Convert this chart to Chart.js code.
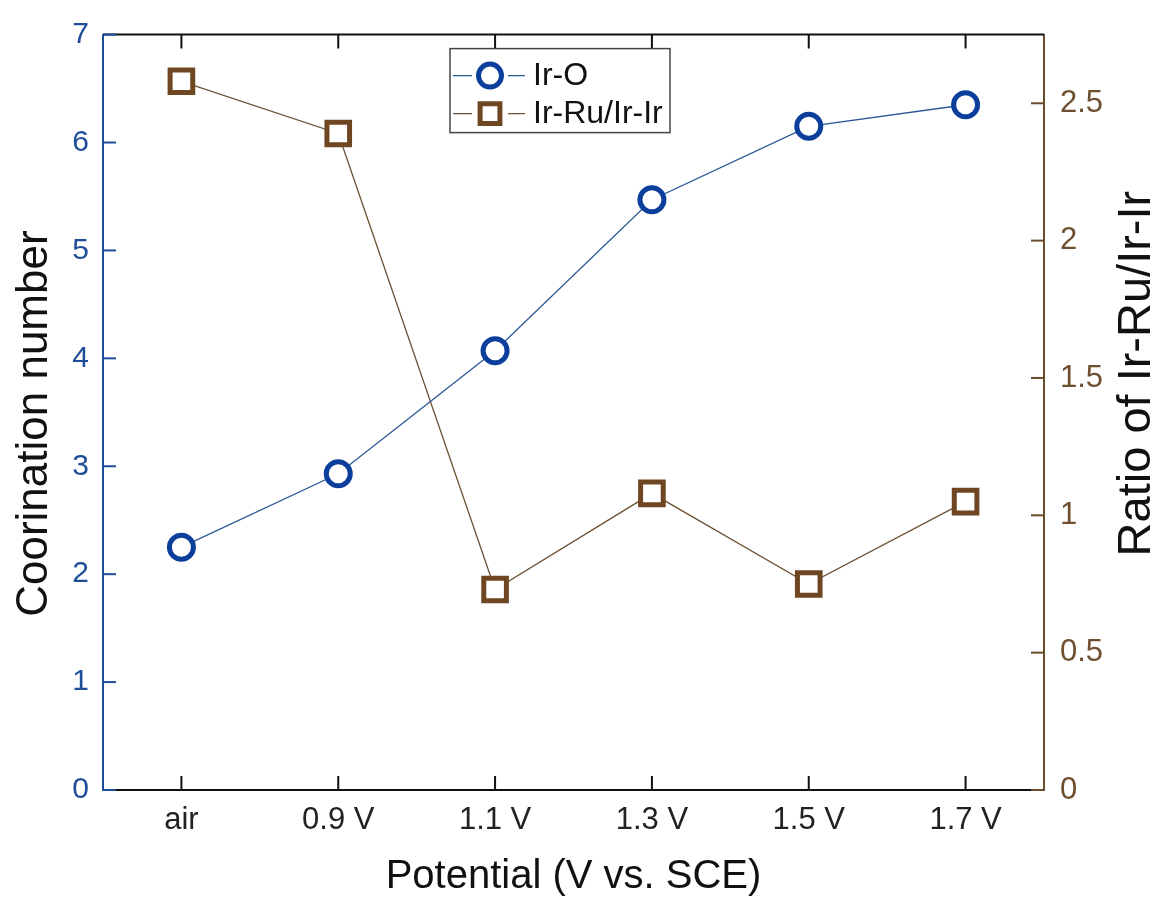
<!DOCTYPE html>
<html>
<head>
<meta charset="utf-8">
<script src="https://cdn.jsdelivr.net/npm/chart.js@4.4.1/dist/chart.umd.min.js"></script>
<style>
  html, body { margin: 0; padding: 0; background: #fff; }
  #wrap { width: 1158px; height: 903px; }
</style>
</head>
<body>
<div id="wrap"><canvas id="xafsChart"></canvas></div>
<script>
// data
const potentials = ['air', '0.9 V', '1.1 V', '1.3 V', '1.5 V', '1.7 V'];
const irOCoordination = [2.25, 2.93, 4.07, 5.47, 6.15, 6.35];
const irRuRatio = [2.58, 2.39, 0.73, 1.08, 0.75, 1.05];
const leftTicks = [0, 1, 2, 3, 4, 5, 6, 7];
const rightTicks = [0, 0.5, 1, 1.5, 2, 2.5];

const FONT = '"Liberation Sans", Arial, sans-serif';
const BLUE = '#0b3f9b';
const BLUE_AXIS = '#1f4e99';
const BROWN = '#6f4622';
const BROWN_AXIS = '#6b4d2e';

Chart.defaults.font.family = FONT;

// inward tick marks, top frame line, vertical axis titles
const frameTicks = {
    id: 'frameTicks',
    afterDraw(chart) {
        const { ctx, chartArea: a, scales } = chart;
        ctx.save();
        ctx.lineWidth = 2;
        ctx.strokeStyle = '#111';
        ctx.beginPath();
        ctx.moveTo(a.left, a.top);
        ctx.lineTo(a.right, a.top);
        ctx.stroke();
        scales.x.ticks.forEach((t, i) => {
            const px = scales.x.getPixelForTick(i);
            ctx.beginPath();
            ctx.moveTo(px, a.bottom);
            ctx.lineTo(px, a.bottom - 14);
            ctx.moveTo(px, a.top);
            ctx.lineTo(px, a.top + 14);
            ctx.stroke();
        });
        ctx.strokeStyle = BLUE_AXIS;
        scales.y.ticks.forEach((t, i) => {
            const py = scales.y.getPixelForTick(i);
            ctx.beginPath();
            ctx.moveTo(a.left, py);
            ctx.lineTo(a.left + 13, py);
            ctx.stroke();
        });
        ctx.strokeStyle = BROWN_AXIS;
        scales.y1.ticks.forEach((t, i) => {
            const py = scales.y1.getPixelForTick(i);
            ctx.beginPath();
            ctx.moveTo(a.right, py);
            ctx.lineTo(a.right - 13, py);
            ctx.stroke();
        });

        // both titles read bottom-to-top
        ctx.fillStyle = '#111';
        ctx.textAlign = 'center';
        ctx.textBaseline = 'middle';
        ctx.save();
        ctx.font = '44px ' + FONT;
        ctx.translate(a.left - 68, a.top + 389);
        ctx.rotate(-Math.PI / 2);
        ctx.fillText('Coorination number', 0, 0);
        ctx.restore();
        ctx.save();
        ctx.font = '47px ' + FONT;
        ctx.translate(a.right + 93, a.top + 339);
        ctx.rotate(-Math.PI / 2);
        ctx.fillText('Ratio of Ir-Ru/Ir-Ir', 0, 0);
        ctx.restore();
        ctx.restore();
    }
};

// boxed legend with line-marker-line symbols
const boxLegend = {
    id: 'boxLegend',
    afterDraw(chart) {
        const { ctx, chartArea: a } = chart;
        const x0 = a.left + 347, y0 = a.top + 14, w = 220, h = 84;
        ctx.save();
        ctx.fillStyle = '#fff';
        ctx.fillRect(x0, y0, w, h);
        ctx.strokeStyle = '#444';
        ctx.lineWidth = 1.5;
        ctx.strokeRect(x0, y0, w, h);
        chart.data.datasets.forEach((ds, i) => {
            const cy = y0 + 27 + i * 38;
            ctx.strokeStyle = ds.borderColor;
            ctx.lineWidth = 1.3;
            ctx.beginPath();
            ctx.moveTo(x0 + 3, cy);
            ctx.lineTo(x0 + 22, cy);
            ctx.moveTo(x0 + 58, cy);
            ctx.lineTo(x0 + 75, cy);
            ctx.stroke();
            ctx.fillStyle = '#fff';
            ctx.strokeStyle = ds.pointBorderColor;
            ctx.lineWidth = ds.pointBorderWidth;
            Chart.helpers.drawPoint(ctx, {
                pointStyle: ds.pointStyle,
                radius: ds.legendRadius,
                borderWidth: ds.pointBorderWidth,
                rotation: 0
            }, x0 + 40, cy);
            ctx.fillStyle = '#111';
            ctx.font = '32px ' + FONT;
            ctx.textAlign = 'left';
            ctx.textBaseline = 'middle';
            ctx.fillText(ds.label, x0 + 83, cy + 1);
        });
        ctx.restore();
    }
};

const ctx = document.getElementById('xafsChart').getContext('2d');
new Chart(ctx, {
    type: 'line',
    data: {
        labels: potentials,
        datasets: [{
            label: 'Ir-O',
            data: irOCoordination,
            yAxisID: 'y',
            borderColor: '#2c5896',
            borderWidth: 1.3,
            pointStyle: 'circle',
            pointRadius: 12,
            legendRadius: 11.5,
            pointBorderWidth: 5,
            pointBorderColor: BLUE,
            pointBackgroundColor: '#fff',
            tension: 0,
            clip: false
        }, {
            label: 'Ir-Ru/Ir-Ir',
            data: irRuRatio,
            yAxisID: 'y1',
            borderColor: '#6d5236',
            borderWidth: 1.3,
            pointStyle: 'rect',
            pointRadius: 16,
            legendRadius: 14,
            pointBorderWidth: 5,
            pointBorderColor: BROWN,
            pointBackgroundColor: '#fff',
            tension: 0,
            clip: false
        }]
    },
    options: {
        responsive: true,
        maintainAspectRatio: false,
        animation: false,
        layout: { padding: { top: 31, left: 0, right: 0, bottom: 0 } },
        plugins: {
            legend: { display: false },
            tooltip: { enabled: false }
        },
        scales: {
            x: {
                type: 'category',
                offset: true,
                grid: { display: false, drawTicks: false },
                border: { display: true, color: '#111', width: 2 },
                ticks: { color: '#222', font: { size: 31 }, padding: 12 },
                title: {
                    display: true,
                    text: 'Potential (V vs. SCE)',
                    color: '#111',
                    font: { size: 40, lineHeight: 1 },
                    padding: { top: 0, bottom: 6 }
                },
                afterFit(scale) { scale.height = 113; }
            },
            y: {
                position: 'left',
                min: 0,
                max: 7,
                grid: { display: false, drawTicks: false },
                border: { display: true, color: BLUE_AXIS, width: 2 },
                ticks: { color: BLUE_AXIS, font: { size: 30 }, padding: 14 },
                afterBuildTicks(scale) { scale.ticks = leftTicks.map(v => ({ value: v })); },
                afterFit(scale) { scale.width = 103; }
            },
            y1: {
                position: 'right',
                min: 0,
                max: 2.75,
                grid: { display: false, drawTicks: false },
                border: { display: true, color: BROWN_AXIS, width: 2 },
                ticks: {
                    color: '#6e5030',
                    font: { size: 31 },
                    padding: 16,
                    callback: v => String(v)
                },
                afterBuildTicks(scale) { scale.ticks = rightTicks.map(v => ({ value: v })); },
                afterFit(scale) { scale.width = 114; }
            }
        }
    },
    plugins: [frameTicks, boxLegend]
});
</script>
</body>
</html>
